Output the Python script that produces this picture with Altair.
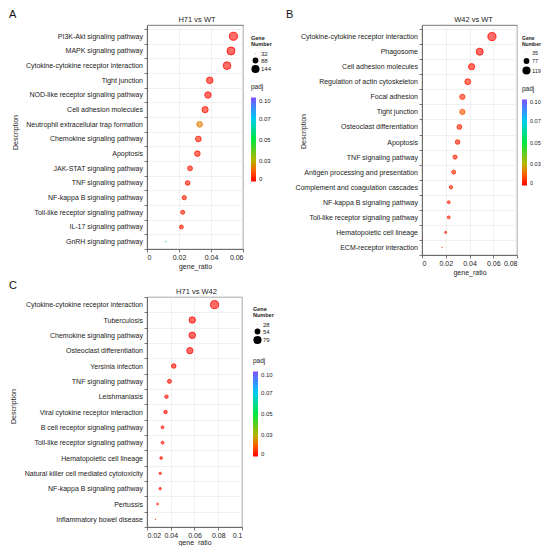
import json
import altair as alt
import pandas as pd

FONT = "Liberation Sans"

a_desc = ["PI3K-Akt signaling pathway", "MAPK signaling pathway",
          "Cytokine-cytokine receptor interaction", "Tight junction",
          "NOD-like receptor signaling pathway", "Cell adhesion molecules",
          "Neutrophil extracellular trap formation", "Chemokine signaling pathway",
          "Apoptosis", "JAK-STAT signaling pathway", "TNF signaling pathway",
          "NF-kappa B signaling pathway", "Toll-like receptor signaling pathway",
          "IL-17 signaling pathway", "GnRH signaling pathway"]
a_ratio = [0.0540, 0.0525, 0.0500, 0.0392, 0.0381, 0.0363, 0.0329, 0.0321,
           0.0315, 0.0269, 0.0254, 0.0233, 0.0223, 0.0215, 0.0117]
a_count = [144, 140, 133, 105, 102, 97, 88, 86, 84, 72, 68, 62, 59, 57, 32]
a_padj = [0.001, 0.001, 0.002, 0.002, 0.002, 0.003, 0.017, 0.003, 0.003,
          0.003, 0.003, 0.004, 0.004, 0.004, 0.058]
a_size_ticks = [32, 88, 144]
a_x_ticks = [0, 0.02, 0.04, 0.06]

b_desc = ["Cytokine-cytokine receptor interaction", "Phagosome",
          "Cell adhesion molecules", "Regulation of actin cytoskeleton",
          "Focal adhesion", "Tight junction", "Osteoclast differentiation",
          "Apoptosis", "TNF signaling pathway", "Antigen processing and presentation",
          "Complement and coagulation cascades", "NF-kappa B signaling pathway",
          "Toll-like receptor signaling pathway", "Hematopoietic cell lineage",
          "ECM-receptor interaction"]
b_ratio = [0.0589, 0.0486, 0.0418, 0.0385, 0.0340, 0.0340, 0.0315, 0.0300,
           0.0278, 0.0267, 0.0244, 0.0225, 0.0225, 0.0199, 0.0170]
b_count = [119, 98, 84, 78, 69, 69, 64, 61, 56, 54, 49, 45, 45, 40, 35]
b_padj = [0.001, 0.001, 0.002, 0.004, 0.005, 0.011, 0.004, 0.004, 0.004,
          0.005, 0.005, 0.005, 0.005, 0.005, 0.006]
b_size_ticks = [35, 77, 119]
b_x_ticks = [0, 0.02, 0.04, 0.06, 0.08]

c_desc = ["Cytokine-cytokine receptor interaction", "Tuberculosis",
          "Chemokine signaling pathway", "Osteoclast differentiation",
          "Yersinia infection", "TNF signaling pathway", "Leishmaniasis",
          "Viral cytokine receptor interaction", "B cell receptor signaling pathway",
          "Toll-like receptor signaling pathway", "Hematopoietic cell lineage",
          "Natural killer cell mediated cytotoxicity", "NF-kappa B signaling pathway",
          "Pertussis", "Inflammatory bowel disease"]
c_ratio = [0.0769, 0.0581, 0.0581, 0.0561, 0.0425, 0.0389, 0.0364, 0.0356,
           0.0331, 0.0331, 0.0319, 0.0311, 0.0311, 0.0289, 0.0272]
c_count = [79, 60, 60, 58, 44, 40, 37, 37, 34, 34, 33, 32, 32, 30, 28]
c_padj = [0.001, 0.001, 0.001, 0.001, 0.002, 0.002, 0.002, 0.002, 0.003,
          0.003, 0.003, 0.003, 0.003, 0.004, 0.004]
c_size_ticks = [28, 54, 79]
c_x_ticks = [0.02, 0.04, 0.06, 0.08, 0.1]

padj_ticks = [0, 0.025, 0.05, 0.075, 0.1]
padj_labels = ["0", "0.03", "0.05", "0.07", "0.10"]

COLOR_DOMAIN = [0, 0.012, 0.025, 0.05, 0.075, 0.088, 0.1]
COLOR_RANGE = ["#FF0000", "#FF5A00", "#B8B400", "#00E840", "#00CCF0", "#3C8CFF", "#8050FF"]

padj_label_expr = f"{json.dumps(padj_labels)}[round(datum.value / 0.025)]"


def panel(desc, ratio, count, padj, xdom, xticks, w, h, pad_outer, title, title_dx,
          size_ticks, letter, lx, ly, ytx, yty, legx, size_y, col_y, glen,
          leg_font=6, leg_title_font=5.5, x_label_pad=1.5, x_title_pad=2):
    df = pd.DataFrame({"Description": desc, "gene_ratio": ratio,
                       "count": count, "padj": padj})
    cscale = alt.Scale(domain=COLOR_DOMAIN, range=COLOR_RANGE, interpolate="rgb")
    x_enc = alt.X("gene_ratio:Q",
                  scale=alt.Scale(domain=xdom, nice=False, zero=False),
                  axis=alt.Axis(values=xticks, format=".2~f", title="gene_ratio",
                                grid=True, labelPadding=x_label_pad,
                                titlePadding=x_title_pad))
    y_enc = alt.Y("Description:N", sort=desc,
                  scale=alt.Scale(type="band", paddingInner=0, paddingOuter=pad_outer,
                                  align=1),
                  axis=alt.Axis(title="Description", tickBand="extent", grid=True,
                                titleX=ytx, titleY=yty))
    size_scale = alt.Scale(domain=[min(count), max(count)], range=[0.4, 66])
    base = alt.Chart(df)
    fill_layer = base.mark_circle(opacity=1, fillOpacity=0.6, strokeWidth=0).encode(
        x=x_enc, y=y_enc,
        size=alt.Size("count:Q", scale=size_scale,
                      legend=alt.Legend(title=["Gene", "Number"], values=size_ticks,
                                        orient="none", legendX=legx, legendY=size_y,
                                        titleFontSize=leg_title_font,
                                        titleFontWeight="bold",
                                        titleLineHeight=6, titlePadding=3,
                                        symbolType="circle", symbolFillColor="black",
                                        symbolStrokeColor="black", symbolStrokeWidth=0,
                                        symbolOpacity=1, rowPadding=1, labelOffset=1,
                                        labelFontSize=leg_font, padding=0)),
        color=alt.Color("padj:Q", scale=cscale,
                        legend=alt.Legend(type="gradient", title="padj", orient="none",
                                          legendX=legx, legendY=col_y, values=padj_ticks,
                                          labelExpr=padj_label_expr,
                                          gradientLength=glen, gradientThickness=5,
                                          gradientStrokeWidth=0, direction="vertical",
                                          titleFontSize=6.5, titleFontWeight="normal",
                                          titlePadding=7, labelOffset=3,
                                          labelFontSize=leg_font,
                                          labelBaseline="middle", padding=0)),
    )
    ring_layer = base.mark_point(opacity=1, filled=False, strokeWidth=0.8,
                                 shape="circle").encode(
        x=x_enc, y=y_enc,
        size=alt.Size("count:Q", scale=size_scale, legend=None),
        color=alt.Color("padj:Q", scale=cscale, legend=None),
    )
    letter_mark = alt.Chart(pd.DataFrame({"t": [letter]})).mark_text(
        align="left", baseline="top", fontSize=11, font=FONT, color="#111"
    ).encode(text="t:N", x=alt.value(lx), y=alt.value(ly))
    title_mark = alt.Chart(pd.DataFrame({"t": [title]})).mark_text(
        align="center", baseline="middle", fontSize=7.5, font=FONT, color="#222"
    ).encode(text="t:N", x=alt.value(w / 2 + title_dx), y=alt.value(-5))
    return alt.layer(fill_layer, ring_layer, letter_mark, title_mark).resolve_scale(
        color="independent"
    ).properties(width=w, height=h)


A = panel(a_desc, a_ratio, a_count, a_padj, [0, 0.06], a_x_ticks, 96, 224, 0.135,
          "H71 vs WT", 2, a_size_ticks, "A", -138, -16, -128.5, 107,
          104, 11, 59, 84)
B = panel(b_desc, b_ratio, b_count, b_padj, [0, 0.08], b_x_ticks, 95, 230, 0.135,
          "W42 vs WT", 4, b_size_ticks, "B", -136, -16, -115.5, 106,
          100, 11, 61, 86, leg_font=5.5, leg_title_font=5)
C = panel(c_desc, c_ratio, c_count, c_padj, [0.02, 0.1], c_x_ticks, 95, 230, 0.0,
          "H71 vs W42", 2, c_size_ticks, "C", -138, -17, -130.5, 109,
          106, 10, 61, 85, x_label_pad=1, x_title_pad=0)

chart = alt.concat(
    A, B, C, columns=2, spacing={"row": 42, "column": 179}, bounds="flush"
).resolve_scale(
    x="independent", y="independent", size="independent", color="independent"
).resolve_legend(
    size="independent", color="independent"
).properties(
    padding=0
).configure(
    font=FONT
).configure_view(
    stroke="#555", strokeWidth=0.8
).configure_axis(
    domainColor="#555", domainWidth=0.8, tickColor="#555", tickWidth=0.8,
    tickSize=3, labelFontSize=7, titleFontSize=7, titleFontWeight="normal",
    labelColor="#222", titleColor="#222", gridColor="#e6e6e6", gridWidth=0.6,
    labelPadding=1.5, titlePadding=2, labelFont=FONT, titleFont=FONT
).configure_legend(
    labelFontSize=6.5, labelColor="#222", titleColor="#222", labelFont=FONT,
    titleFont=FONT
)

chart.save("out.html", embed_options={"renderer": "svg", "actions": False})
